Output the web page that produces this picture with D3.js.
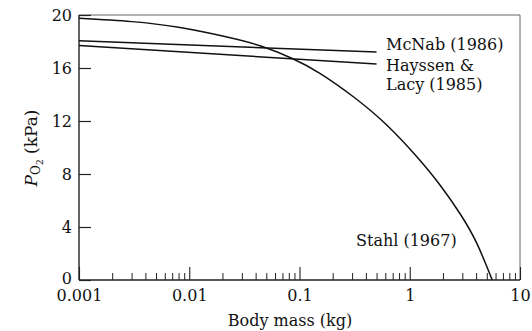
<!DOCTYPE html>
<html>
<head>
<meta charset="utf-8">
<script src="https://cdn.jsdelivr.net/npm/d3@7"></script>
<style>
  body { margin: 0; background: #fff; }
  svg text { font-family: "DejaVu Serif", "Liberation Serif", serif; fill: #111; }
  .axis line { stroke: #222; }
  .axis .domain { display: none; }
</style>
</head>
<body>
<div id="chart"></div>
<script>
// Stahl (1967) curve
const stahlMass = [0.001, 0.003, 0.008, 0.023, 0.046, 0.086, 0.153, 0.308, 0.618, 1.16, 1.88, 2.86, 4.04, 5.6];
const stahlPo2 = [19.75, 19.5, 19.07, 18.3, 17.62, 16.72, 15.6, 13.83, 11.7, 9.3, 7.17, 5.0, 2.8, 0];

// straight lines (log x)
const mcnabMass = [0.001, 0.5];
const mcnabPo2 = [18.05, 17.2];
const hlMass = [0.001, 0.5];
const hlPo2 = [17.7, 16.3];

const yTicks = [0, 4, 8, 12, 16, 20];
const xMajor = [0.001, 0.01, 0.1, 1, 10];
const xLabels = ['0.001', '0.01', '0.1', '1', '10'];

const width = 532, height = 331;
const margin = { top: 15, right: 12, bottom: 51, left: 79 };

const svg = d3.select('#chart').append('svg')
    .attr('width', width)
    .attr('height', height);

const x = d3.scaleLog()
    .domain([0.001, 10])
    .range([margin.left, width - margin.right]);
const y = d3.scaleLinear()
    .domain([0, 20])
    .range([height - margin.bottom, margin.top]);

// minor ticks 2..9 in every decade
const xMinor = [];
xMajor.slice(0, -1).forEach(d => {
    for (let k = 2; k <= 9; k += 1) xMinor.push(d * k);
});

// frame: top and right lighter
svg.append('line')
    .attr('x1', x(0.001)).attr('x2', x(10))
    .attr('y1', y(20)).attr('y2', y(20))
    .attr('stroke', '#666').attr('stroke-width', 1);
svg.append('line')
    .attr('x1', x(10)).attr('x2', x(10))
    .attr('y1', y(20)).attr('y2', y(0))
    .attr('stroke', '#666').attr('stroke-width', 1);

// y axis
svg.append('g')
    .attr('class', 'axis y-axis')
    .attr('transform', `translate(${x(0.001)},0)`)
    .call(d3.axisLeft(y).tickValues(yTicks).tickSize(-12).tickPadding(7))
    .call(g => g.attr('font-family', null).attr('font-size', 16))
    .call(g => g.selectAll('.tick line').attr('stroke-width', 1.2))
    .call(g => g.selectAll('.tick text').filter(d => d === 0).attr('dy', '0.22em'));

// x axis: major
svg.append('g')
    .attr('class', 'axis x-axis')
    .attr('transform', `translate(0,${y(0)})`)
    .call(d3.axisBottom(x).tickValues(xMajor).tickSize(-13).tickPadding(10)
        .tickFormat((d, i) => xLabels[i]))
    .call(g => g.attr('font-family', null).attr('font-size', 16))
    .call(g => g.selectAll('.tick line').attr('stroke-width', 1.1));

// x axis: minor
svg.append('g')
    .attr('class', 'axis x-minor')
    .attr('transform', `translate(0,${y(0)})`)
    .call(d3.axisBottom(x).tickValues(xMinor).tickSize(-7).tickFormat(''))
    .call(g => g.selectAll('.tick line').attr('stroke-width', 1));

// left and bottom axis lines
svg.append('line')
    .attr('x1', x(0.001)).attr('x2', x(0.001))
    .attr('y1', y(20)).attr('y2', y(0))
    .attr('stroke', '#222').attr('stroke-width', 1.4);
svg.append('line')
    .attr('x1', x(0.001)).attr('x2', x(10))
    .attr('y1', y(0)).attr('y2', y(0))
    .attr('stroke', '#222').attr('stroke-width', 1.4);

const line = d3.line()
    .x(d => x(d[0]))
    .y(d => y(d[1]));

const series = [
    { mass: stahlMass, po2: stahlPo2, curve: d3.curveNatural },
    { mass: mcnabMass, po2: mcnabPo2, curve: d3.curveLinear },
    { mass: hlMass, po2: hlPo2, curve: d3.curveLinear },
];

svg.selectAll('.series')
    .data(series)
    .join('path')
    .attr('class', 'series')
    .attr('fill', 'none')
    .attr('stroke', '#111')
    .attr('stroke-width', 1.5)
    .attr('d', s => line.curve(s.curve)(s.mass.map((m, i) => [m, s.po2[i]])));

// labels
const labels = [
    { text: 'McNab (1986)', x: 386, y: 50 },
    { text: 'Hayssen &', x: 386, y: 71 },
    { text: 'Lacy (1985)', x: 386, y: 90 },
    { text: 'Stahl (1967)', x: 356, y: 246 },
];
svg.selectAll('.lab')
    .data(labels)
    .join('text')
    .attr('class', 'lab')
    .attr('x', d => d.x)
    .attr('y', d => d.y)
    .attr('font-size', 16)
    .text(d => d.text);

// axis titles
svg.append('text')
    .attr('x', 290)
    .attr('y', 326)
    .attr('text-anchor', 'middle')
    .attr('font-size', 16)
    .text('Body mass (kg)');

const yt = svg.append('text')
    .attr('transform', 'translate(37,148) rotate(-90)')
    .attr('text-anchor', 'middle')
    .attr('font-size', 17);
yt.append('tspan').attr('font-style', 'italic').text('P');
yt.append('tspan').attr('font-size', 12).attr('dy', 3).text('O');
yt.append('tspan').attr('font-size', 9).attr('dy', 3).text('2');
yt.append('tspan').attr('dy', -6).text(' (kPa)');
</script>
</body>
</html>
